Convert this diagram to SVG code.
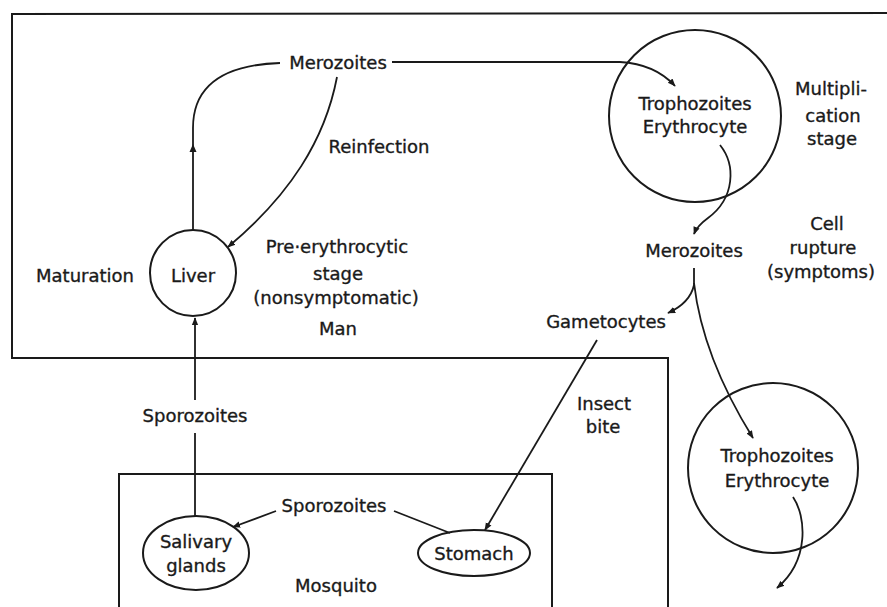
<svg xmlns="http://www.w3.org/2000/svg" width="887" height="607" viewBox="0 0 887 607">
<style>
  .t{font-family:"DejaVu Sans","Liberation Sans",sans-serif;font-size:18px;fill:#1a1a1a;stroke:#1a1a1a;stroke-width:0.35;text-anchor:middle}
  .ln{fill:none;stroke:#1a1a1a;stroke-width:1.8}
  .sh{fill:none;stroke:#1a1a1a;stroke-width:2}
</style>
<defs>
  <marker id="ah" viewBox="0 0 10 10" refX="9" refY="5" markerWidth="8" markerHeight="8" markerUnits="userSpaceOnUse" orient="auto">
    <path d="M0,1 L10,5 L0,9 Z" fill="#1a1a1a"/>
  </marker>
</defs>
<rect width="887" height="607" fill="#ffffff"/>

<g id="frames">
  <path class="sh" d="M887,13 L12,14 L12,358 L668,358 L668,607"/>
  <path class="sh" d="M119,607 L119,474 L552,474 L552,607"/>
</g>

<g id="liver"><circle class="sh" cx="193" cy="273" r="43"/><text class="t" x="193" y="282">Liver</text></g>
<g id="troph1"><circle class="sh" cx="695" cy="116" r="86"/><text class="t" x="695" y="110">Trophozoites</text><text class="t" x="695" y="133">Erythrocyte</text></g>
<g id="troph2"><circle class="sh" cx="773" cy="468" r="85"/><text class="t" x="777" y="462">Trophozoites</text><text class="t" x="777" y="487">Erythrocyte</text></g>
<g id="salivary"><ellipse class="sh" cx="196" cy="553" rx="53" ry="37"/><text class="t" x="196" y="548">Salivary</text><text class="t" x="196" y="572">glands</text></g>
<g id="stomach"><ellipse class="sh" cx="474" cy="553" rx="56" ry="23"/><text class="t" x="474" y="560">Stomach</text></g>
<g id="merozoites1"><text class="t" x="338" y="69">Merozoites</text></g>
<g id="merozoites2"><text class="t" x="694" y="257">Merozoites</text></g>
<g id="gametocytes"><text class="t" x="606" y="328">Gametocytes</text></g>
<g id="sporozoites1"><text class="t" x="195" y="422">Sporozoites</text></g>
<g id="sporozoites2"><text class="t" x="334" y="512">Sporozoites</text></g>

<g id="labels">
  <text class="t" x="85" y="282">Maturation</text>
  <text class="t" x="379" y="153">Reinfection</text>
  <text class="t" x="337" y="253">Pre·erythrocytic</text>
  <text class="t" x="338" y="280">stage</text>
  <text class="t" x="336" y="304">(nonsymptomatic)</text>
  <text class="t" x="338" y="335">Man</text>
  <text class="t" x="831" y="95">Multipli-</text>
  <text class="t" x="833" y="122">cation</text>
  <text class="t" x="832" y="145">stage</text>
  <text class="t" x="827" y="230">Cell</text>
  <text class="t" x="823" y="254">rupture</text>
  <text class="t" x="821" y="278">(symptoms)</text>
  <text class="t" x="604" y="410">Insect</text>
  <text class="t" x="603" y="433">bite</text>
  <text class="t" x="336" y="592">Mosquito</text>
</g>

<g id="connectors">
  <path class="ln" d="M193,230 L193,128 Q193,66 280,63"/>
  <path d="M193,144 L189.5,152 L196.5,152 Z" fill="#1a1a1a"/>
  <path class="ln" d="M392,62 L620,62 Q655,64 675,86" marker-end="url(#ah)"/>
  <path class="ln" d="M337,77 C325,140 290,195 228,247" marker-end="url(#ah)"/>
  <path class="ln" d="M720,145 C736,165 735,198 708,218 Q697,226 694,234" marker-end="url(#ah)"/>
  <path class="ln" d="M694,268 L694,285 Q690,303 668,313" marker-end="url(#ah)"/>
  <path class="ln" d="M694,283 C700,335 720,385 753,438" marker-end="url(#ah)"/>
  <path class="ln" d="M597,340 L485,530" marker-end="url(#ah)"/>
  <path class="ln" d="M793,497 C806,516 810,560 777,588" marker-end="url(#ah)"/>
  <path class="ln" d="M195,517 L195,433"/>
  <path class="ln" d="M195,400 L195,318" marker-end="url(#ah)"/>
  <path class="ln" d="M450,533 L394,511"/>
  <path class="ln" d="M276,511 L233,527" marker-end="url(#ah)"/>
</g>
</svg>
